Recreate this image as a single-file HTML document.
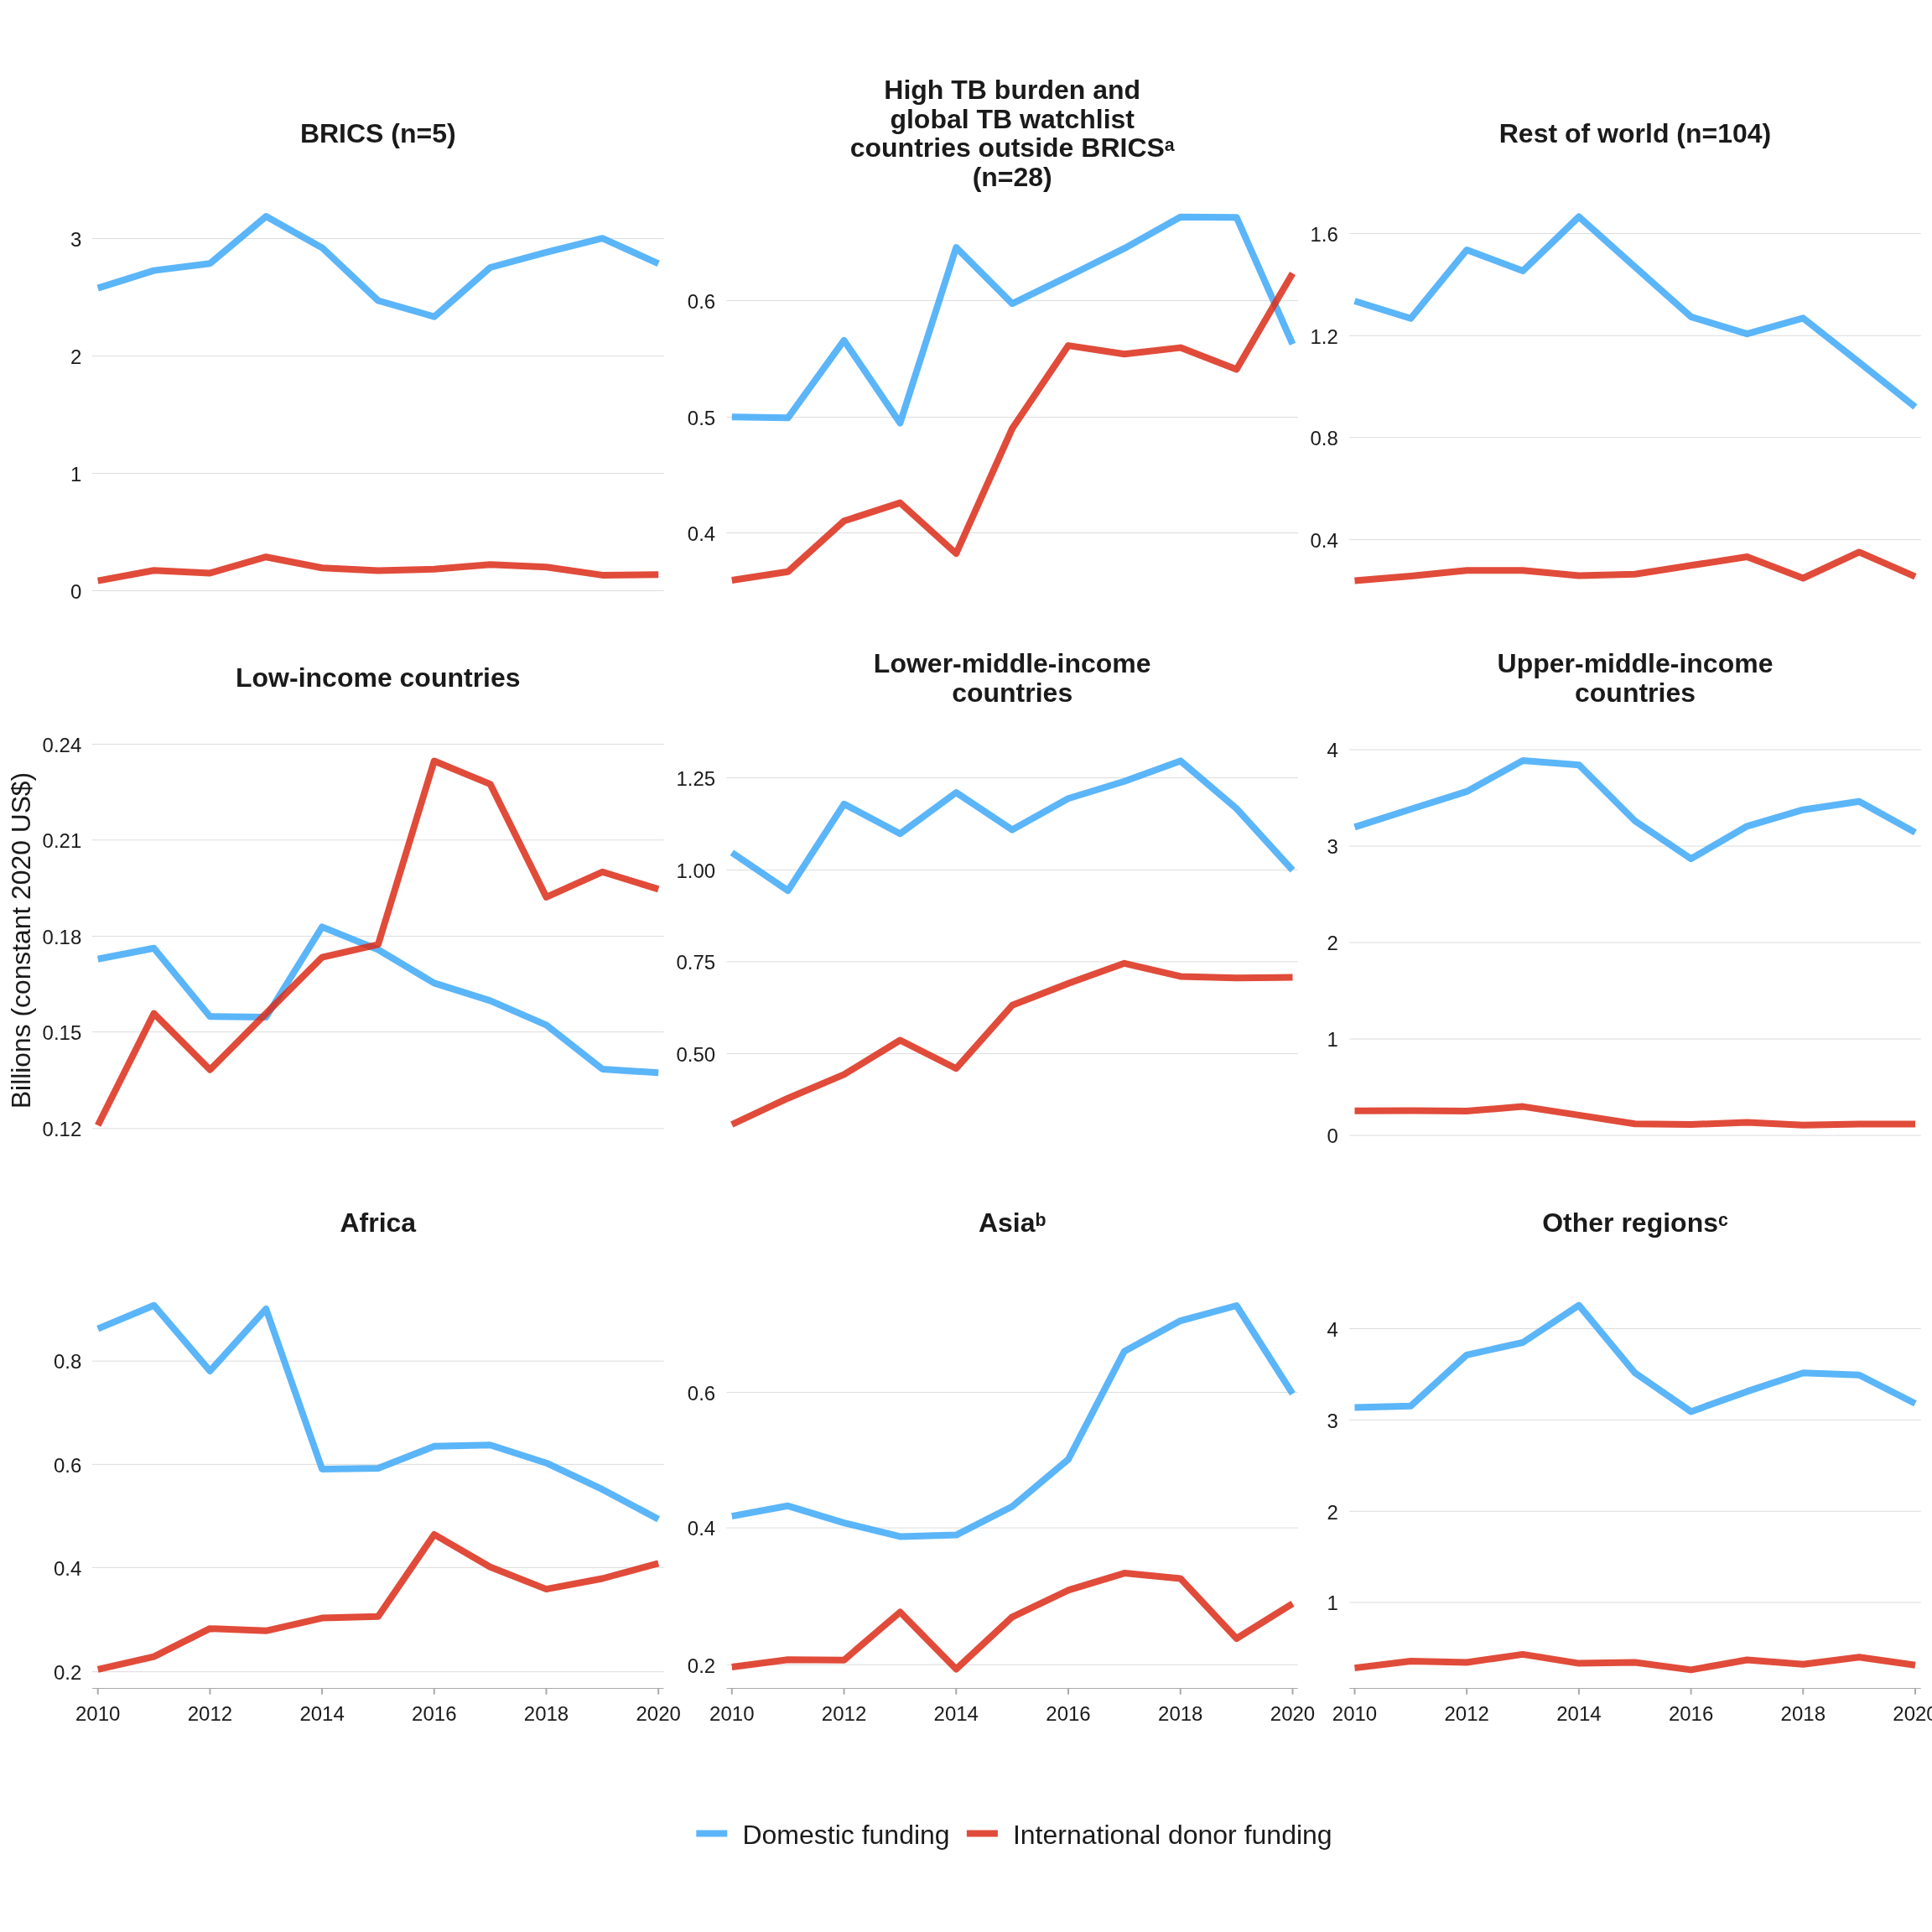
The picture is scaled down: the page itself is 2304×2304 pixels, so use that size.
<!DOCTYPE html>
<html><head><meta charset="utf-8"><title>TB funding</title>
<style>
html,body{margin:0;padding:0;background:#fff;}
body{width:2304px;height:2304px;overflow:hidden;font-family:"Liberation Sans",sans-serif;}
svg{display:block;will-change:transform;}
</style></head><body>
<svg width="2304" height="2304" viewBox="0 0 2304 2304">
<rect x="0" y="0" width="2304" height="2304" fill="#ffffff"/>
<path d="M110.0 284.55H791.6M110.0 424.55H791.6M110.0 564.55H791.6M110.0 704.55H791.6M866.5 358.55H1547.8M866.5 497.55H1547.8M866.5 635.55H1547.8M1609.2 278.45H2290.8M1609.2 400.25H2290.8M1609.2 521.65H2290.8M1609.2 643.55H2290.8M110.0 887.55H791.6M110.0 1001.75H791.6M110.0 1116.55H791.6M110.0 1230.65H791.6M110.0 1345.75H791.6M866.5 927.55H1547.8M866.5 1037.55H1547.8M866.5 1146.85H1547.8M866.5 1256.45H1547.8M1609.2 894.05H2290.8M1609.2 1009.05H2290.8M1609.2 1124.05H2290.8M1609.2 1239.05H2290.8M1609.2 1354.05H2290.8M110.0 1623.15H791.6M110.0 1746.35H791.6M110.0 1869.35H791.6M110.0 1993.65H791.6M866.5 1660.45H1547.8M866.5 1822.05H1547.8M866.5 1985.25H1547.8M1609.2 1584.55H2290.8M1609.2 1693.25H2290.8M1609.2 1802.25H2290.8M1609.2 1911.05H2290.8" stroke="#dcdcdc" stroke-width="1" fill="none"/>
<g font-family="&quot;Liberation Sans&quot;, sans-serif" font-size="24" fill="#1a1a1a"><text x="97.3" y="293.8" text-anchor="end">3</text><text x="97.3" y="433.8" text-anchor="end">2</text><text x="97.3" y="573.8" text-anchor="end">1</text><text x="97.3" y="713.8" text-anchor="end">0</text><text x="853.2" y="367.8" text-anchor="end">0.6</text><text x="853.2" y="506.8" text-anchor="end">0.5</text><text x="853.2" y="644.8" text-anchor="end">0.4</text><text x="1595.9" y="287.7" text-anchor="end">1.6</text><text x="1595.9" y="409.5" text-anchor="end">1.2</text><text x="1595.9" y="530.9" text-anchor="end">0.8</text><text x="1595.9" y="652.8" text-anchor="end">0.4</text><text x="97.3" y="896.8" text-anchor="end">0.24</text><text x="97.3" y="1011.0" text-anchor="end">0.21</text><text x="97.3" y="1125.8" text-anchor="end">0.18</text><text x="97.3" y="1239.9" text-anchor="end">0.15</text><text x="97.3" y="1355.0" text-anchor="end">0.12</text><text x="853.2" y="936.8" text-anchor="end">1.25</text><text x="853.2" y="1046.8" text-anchor="end">1.00</text><text x="853.2" y="1156.1" text-anchor="end">0.75</text><text x="853.2" y="1265.7" text-anchor="end">0.50</text><text x="1595.9" y="903.3" text-anchor="end">4</text><text x="1595.9" y="1018.3" text-anchor="end">3</text><text x="1595.9" y="1133.3" text-anchor="end">2</text><text x="1595.9" y="1248.3" text-anchor="end">1</text><text x="1595.9" y="1363.3" text-anchor="end">0</text><text x="97.3" y="1632.4" text-anchor="end">0.8</text><text x="97.3" y="1755.6" text-anchor="end">0.6</text><text x="97.3" y="1878.6" text-anchor="end">0.4</text><text x="97.3" y="2002.9" text-anchor="end">0.2</text><text x="853.2" y="1669.7" text-anchor="end">0.6</text><text x="853.2" y="1831.3" text-anchor="end">0.4</text><text x="853.2" y="1994.5" text-anchor="end">0.2</text><text x="1595.9" y="1593.8" text-anchor="end">4</text><text x="1595.9" y="1702.5" text-anchor="end">3</text><text x="1595.9" y="1811.5" text-anchor="end">2</text><text x="1595.9" y="1920.3" text-anchor="end">1</text></g>
<path d="M110.0 2013.5H791.6M866.5 2013.5H1547.8M1609.2 2013.5H2290.8" stroke="#aaaaaa" stroke-width="1" fill="none"/>
<path d="M116.70 2014V2020.7M250.40 2014V2020.7M384.10 2014V2020.7M517.80 2014V2020.7M651.50 2014V2020.7M785.20 2014V2020.7M872.80 2014V2020.7M1006.54 2014V2020.7M1140.28 2014V2020.7M1274.02 2014V2020.7M1407.76 2014V2020.7M1541.50 2014V2020.7M1615.50 2014V2020.7M1749.20 2014V2020.7M1882.90 2014V2020.7M2016.60 2014V2020.7M2150.30 2014V2020.7M2284.00 2014V2020.7" stroke="#aaaaaa" stroke-width="2" fill="none"/>
<g font-family="&quot;Liberation Sans&quot;, sans-serif" font-size="24" fill="#1a1a1a"><text x="116.70" y="2051.8" text-anchor="middle">2010</text><text x="250.40" y="2051.8" text-anchor="middle">2012</text><text x="384.10" y="2051.8" text-anchor="middle">2014</text><text x="517.80" y="2051.8" text-anchor="middle">2016</text><text x="651.50" y="2051.8" text-anchor="middle">2018</text><text x="785.20" y="2051.8" text-anchor="middle">2020</text><text x="872.80" y="2051.8" text-anchor="middle">2010</text><text x="1006.54" y="2051.8" text-anchor="middle">2012</text><text x="1140.28" y="2051.8" text-anchor="middle">2014</text><text x="1274.02" y="2051.8" text-anchor="middle">2016</text><text x="1407.76" y="2051.8" text-anchor="middle">2018</text><text x="1541.50" y="2051.8" text-anchor="middle">2020</text><text x="1615.50" y="2051.8" text-anchor="middle">2010</text><text x="1749.20" y="2051.8" text-anchor="middle">2012</text><text x="1882.90" y="2051.8" text-anchor="middle">2014</text><text x="2016.60" y="2051.8" text-anchor="middle">2016</text><text x="2150.30" y="2051.8" text-anchor="middle">2018</text><text x="2284.00" y="2051.8" text-anchor="middle">2020</text></g>
<polyline points="116.70,343.6 183.55,322.6 250.40,314.3 317.25,258.1 384.10,295.4 450.95,358.5 517.80,377.7 584.65,319.0 651.50,300.9 718.35,284.2 785.20,314.3" fill="none" stroke="#3ea8f8" stroke-opacity="0.85" stroke-width="8" stroke-linejoin="round" stroke-linecap="butt"/>
<polyline points="116.70,692.6 183.55,680.3 250.40,683.4 317.25,664.2 384.10,677.2 450.95,680.5 517.80,678.7 584.65,673.3 651.50,676.2 718.35,685.9 785.20,685.2" fill="none" stroke="#dc2c17" stroke-opacity="0.85" stroke-width="8" stroke-linejoin="round" stroke-linecap="butt"/>
<polyline points="872.80,497.2 939.67,498.3 1006.54,405.9 1073.41,504.5 1140.28,295.1 1207.15,362.1 1274.02,329.5 1340.89,296.2 1407.76,258.8 1474.63,259.2 1541.50,410.3" fill="none" stroke="#3ea8f8" stroke-opacity="0.85" stroke-width="8" stroke-linejoin="round" stroke-linecap="butt"/>
<polyline points="872.80,692.0 939.67,681.8 1006.54,621.3 1073.41,599.6 1140.28,660.1 1207.15,511.0 1274.02,412.1 1340.89,422.2 1407.76,414.6 1474.63,440.4 1541.50,325.9" fill="none" stroke="#dc2c17" stroke-opacity="0.85" stroke-width="8" stroke-linejoin="round" stroke-linecap="butt"/>
<polyline points="1615.50,359.0 1682.35,379.7 1749.20,298.0 1816.05,323.1 1882.90,258.5 1949.75,318.3 2016.60,377.8 2083.45,398.2 2150.30,379.3 2217.15,432.2 2284.00,485.4" fill="none" stroke="#3ea8f8" stroke-opacity="0.85" stroke-width="8" stroke-linejoin="round" stroke-linecap="butt"/>
<polyline points="1615.50,692.4 1682.35,686.9 1749.20,680.2 1816.05,680.2 1882.90,686.5 1949.75,684.7 2016.60,674.3 2083.45,664.0 2150.30,689.5 2217.15,658.4 2284.00,687.6" fill="none" stroke="#dc2c17" stroke-opacity="0.85" stroke-width="8" stroke-linejoin="round" stroke-linecap="butt"/>
<polyline points="116.70,1143.8 183.55,1130.7 250.40,1212.2 317.25,1213.0 384.10,1105.4 450.95,1132.5 517.80,1172.4 584.65,1193.4 651.50,1222.4 718.35,1274.9 785.20,1279.3" fill="none" stroke="#3ea8f8" stroke-opacity="0.85" stroke-width="8" stroke-linejoin="round" stroke-linecap="butt"/>
<polyline points="116.70,1342.0 183.55,1208.6 250.40,1275.7 317.25,1208.6 384.10,1141.6 450.95,1126.4 517.80,907.5 584.65,935.1 651.50,1069.9 718.35,1039.8 785.20,1060.4" fill="none" stroke="#dc2c17" stroke-opacity="0.85" stroke-width="8" stroke-linejoin="round" stroke-linecap="butt"/>
<polyline points="872.80,1016.8 939.67,1062.1 1006.54,958.8 1073.41,994.3 1140.28,945.1 1207.15,989.6 1274.02,952.3 1340.89,931.7 1407.76,907.4 1474.63,964.3 1541.50,1037.8" fill="none" stroke="#3ea8f8" stroke-opacity="0.85" stroke-width="8" stroke-linejoin="round" stroke-linecap="butt"/>
<polyline points="872.80,1341.0 939.67,1309.7 1006.54,1281.4 1073.41,1240.5 1140.28,1274.2 1207.15,1198.8 1274.02,1172.8 1340.89,1148.8 1407.76,1164.4 1474.63,1166.2 1541.50,1165.5" fill="none" stroke="#dc2c17" stroke-opacity="0.85" stroke-width="8" stroke-linejoin="round" stroke-linecap="butt"/>
<polyline points="1615.50,986.4 1682.35,965.0 1749.20,943.9 1816.05,907.0 1882.90,912.2 1949.75,979.0 2016.60,1024.1 2083.45,985.3 2150.30,965.7 2217.15,955.8 2284.00,992.7" fill="none" stroke="#3ea8f8" stroke-opacity="0.85" stroke-width="8" stroke-linejoin="round" stroke-linecap="butt"/>
<polyline points="1615.50,1324.7 1682.35,1324.4 1749.20,1325.1 1816.05,1319.6 1882.90,1329.9 1949.75,1340.3 2016.60,1341.0 2083.45,1338.4 2150.30,1341.7 2217.15,1340.6 2284.00,1340.6" fill="none" stroke="#dc2c17" stroke-opacity="0.85" stroke-width="8" stroke-linejoin="round" stroke-linecap="butt"/>
<polyline points="116.70,1584.6 183.55,1556.7 250.40,1634.9 317.25,1561.0 384.10,1752.0 450.95,1750.9 517.80,1724.8 584.65,1723.3 651.50,1744.7 718.35,1776.2 785.20,1811.7" fill="none" stroke="#3ea8f8" stroke-opacity="0.85" stroke-width="8" stroke-linejoin="round" stroke-linecap="butt"/>
<polyline points="116.70,1990.8 183.55,1975.6 250.40,1942.2 317.25,1944.8 384.10,1929.6 450.95,1927.8 517.80,1829.9 584.65,1868.7 651.50,1895.1 718.35,1882.5 785.20,1864.3" fill="none" stroke="#dc2c17" stroke-opacity="0.85" stroke-width="8" stroke-linejoin="round" stroke-linecap="butt"/>
<polyline points="872.80,1808.1 939.67,1795.8 1006.54,1816.1 1073.41,1832.4 1140.28,1830.6 1207.15,1796.5 1274.02,1740.4 1340.89,1611.4 1407.76,1575.1 1474.63,1557.0 1541.50,1662.1" fill="none" stroke="#3ea8f8" stroke-opacity="0.85" stroke-width="8" stroke-linejoin="round" stroke-linecap="butt"/>
<polyline points="872.80,1988.0 939.67,1979.3 1006.54,1979.7 1073.41,1922.5 1140.28,1990.5 1207.15,1928.3 1274.02,1896.4 1340.89,1876.1 1407.76,1882.6 1474.63,1954.0 1541.50,1912.3" fill="none" stroke="#dc2c17" stroke-opacity="0.85" stroke-width="8" stroke-linejoin="round" stroke-linecap="butt"/>
<polyline points="1615.50,1678.6 1682.35,1676.7 1749.20,1615.8 1816.05,1601.0 1882.90,1556.6 1949.75,1637.2 2016.60,1683.4 2083.45,1659.4 2150.30,1637.2 2217.15,1639.8 2284.00,1673.8" fill="none" stroke="#3ea8f8" stroke-opacity="0.85" stroke-width="8" stroke-linejoin="round" stroke-linecap="butt"/>
<polyline points="1615.50,1989.1 1682.35,1981.0 1749.20,1982.5 1816.05,1972.9 1882.90,1983.6 1949.75,1982.5 2016.60,1991.4 2083.45,1979.5 2150.30,1984.7 2217.15,1976.2 2284.00,1985.8" fill="none" stroke="#dc2c17" stroke-opacity="0.85" stroke-width="8" stroke-linejoin="round" stroke-linecap="butt"/>
<g font-family="&quot;Liberation Sans&quot;, sans-serif" font-size="32" font-weight="bold" fill="#1a1a1a"><text x="450.8" y="169.9" text-anchor="middle">BRICS (n=5)</text><text x="1207.2" y="118.2" text-anchor="middle">High TB burden and</text><text x="1207.2" y="152.7" text-anchor="middle">global TB watchlist</text><text x="1207.2" y="187.2" text-anchor="middle">countries outside BRICS<tspan font-size="21.3" dy="-7">a</tspan></text><text x="1207.2" y="221.7" text-anchor="middle">(n=28)</text><text x="1950.0" y="169.9" text-anchor="middle">Rest of world (n=104)</text><text x="450.8" y="819.4" text-anchor="middle">Low-income countries</text><text x="1207.2" y="802.1" text-anchor="middle">Lower-middle-income</text><text x="1207.2" y="836.6" text-anchor="middle">countries</text><text x="1950.0" y="802.1" text-anchor="middle">Upper-middle-income</text><text x="1950.0" y="836.6" text-anchor="middle">countries</text><text x="450.8" y="1468.9" text-anchor="middle">Africa</text><text x="1207.2" y="1468.9" text-anchor="middle">Asia<tspan font-size="21.3" dy="-7">b</tspan></text><text x="1950.0" y="1468.9" text-anchor="middle">Other regions<tspan font-size="21.3" dy="-7">c</tspan></text></g>
<text transform="translate(36.4 1121.5) rotate(-90)" text-anchor="middle" font-family="&quot;Liberation Sans&quot;, sans-serif" font-size="31.8" fill="#1a1a1a">Billions (constant 2020 US$)</text>
<rect x="830.3" y="2182.5" width="37" height="8" fill="#3ea8f8" fill-opacity="0.85"/>
<rect x="1152.9" y="2182.5" width="37" height="8" fill="#dc2c17" fill-opacity="0.85"/>
<g font-family="&quot;Liberation Sans&quot;, sans-serif" font-size="32" fill="#1a1a1a"><text x="885.4" y="2199.3">Domestic funding</text><text x="1207.9" y="2199.3">International donor funding</text></g>
</svg>
</body></html>
